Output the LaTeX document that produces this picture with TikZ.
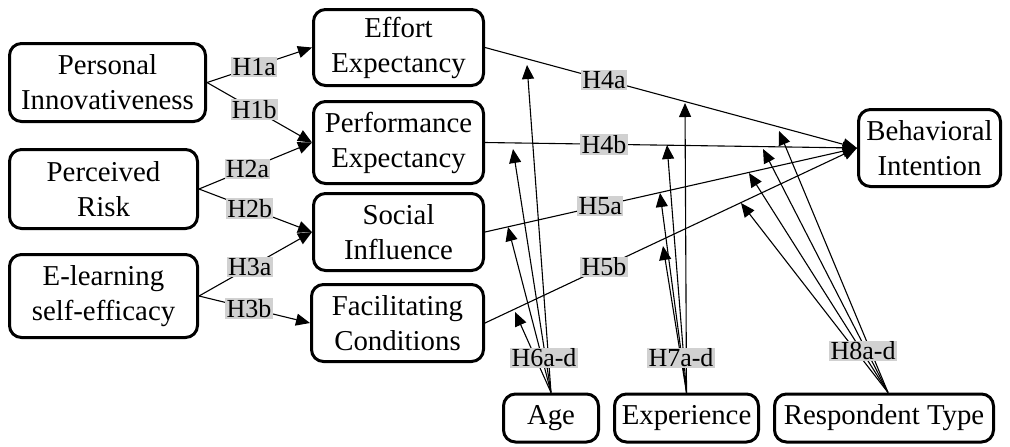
\documentclass[tikz,border=0pt]{standalone}
\usepackage{fontspec}
\setmainfont{Liberation Serif}
\usetikzlibrary{arrows.meta,positioning}

\tikzset{
  box/.style={draw, line width=1.5pt, rounded corners=6pt, align=center,
    inner sep=0pt, font=\fontsize{14.4}{17.5}\selectfont},
  link/.style={-{Triangle[length=7pt,width=6pt]}, line width=0.55pt},
  hyp/.style={fill=black!18, inner sep=0.6pt, font=\fontsize{13}{15}\selectfont},
}

\begin{document}
\begin{tikzpicture}[x=0.5pt,y=-0.5pt]
\useasboundingbox (0,0) rectangle (1010,446);

% antecedents
\node[box, minimum width=98pt, minimum height=39pt] (PI) at (107.5,82.5) {Personal\\Innovativeness};
\node[box, minimum width=94pt, minimum height=39.5pt] (PR) at (103.5,189) {Perceived\\Risk};
\node[box, minimum width=94pt, minimum height=41.5pt] (ES) at (103.5,296) {E-learning\\self-efficacy};

% UTAUT constructs
\node[box, minimum width=85pt, minimum height=38pt] (EE) at (398.5,47.5) {Effort\\Expectancy};
\node[box, minimum width=85pt, minimum height=41pt] (PE) at (398.5,142.5) {Performance\\Expectancy};
\node[box, minimum width=85pt, minimum height=38.5pt] (SI) at (398.5,232) {Social\\Influence};
\node[box, minimum width=86pt, minimum height=38.5pt] (FC) at (397.5,323) {Facilitating\\Conditions};

\node[box, minimum width=71pt, minimum height=38.5pt] (BI) at (929.5,148) {Behavioral\\Intention};

% moderators
\node[box, minimum width=47.5pt, minimum height=24pt] (Age) at (551,418) {Age};
\node[box, minimum width=72pt, minimum height=24pt] (Exp) at (686.5,418) {Experience};
\node[box, minimum width=109.5pt, minimum height=24pt] (Resp) at (884,418) {Respondent Type};

\draw[link] (PI.east) -- node[hyp,pos=0.45]{H1a} (EE.west);
\draw[link] (PI.east) -- node[hyp,pos=0.45]{H1b} (PE.west);
\draw[link] (PR.east) -- node[hyp,pos=0.43]{H2a} (PE.west);
\draw[link] (PR.east) -- node[hyp,pos=0.45]{H2b} (SI.west);
\draw[link] (ES.east) -- node[hyp,pos=0.45]{H3a} (SI.west);
\draw[link] (ES.east) -- node[hyp,pos=0.45]{H3b} (FC.west);

\draw[link] (EE.east) -- node[hyp,pos=0.32]{H4a} (BI.west);
\draw[link] (PE.east) -- node[hyp,pos=0.32]{H4b} (BI.west);
\draw[link] (SI.east) -- node[hyp,pos=0.31]{H5a} (BI.west);
\draw[link] (FC.east) -- node[hyp,pos=0.32]{H5b} (BI.west);

% moderating effects end on the paths
\foreach \t/\x/\y in {a6/527/65, b6/513/149, c6/508/227, d6/515/312,
                      a7/685/103, b7/667/145, c7/660/193, d7/663/246,
                      a8/779/131, b8/763/149, c8/749/173, d8/741/203}
  \coordinate (\t) at (\x,\y);

\foreach \t in {a6,b6,c6,d6} \draw[link] (Age.north) -- (\t);
\foreach \t in {a7,b7,c7,d7} \draw[link] (Exp.north) -- (\t);
\foreach \t in {a8,b8,c8,d8} \draw[link] ([xshift=2pt]Resp.north) -- (\t);

\node[hyp] (m6) at (544,358) {H6a-d};
\node[hyp] (m7) at (681,358) {H7a-d};
\node[hyp] (m8) at (863,351) {H8a-d};

\end{tikzpicture}
\end{document}
